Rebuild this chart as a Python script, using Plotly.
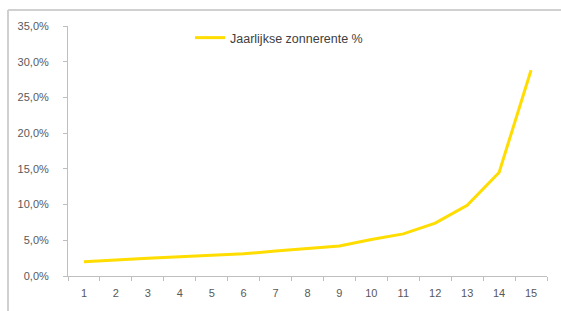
import plotly.graph_objects as go

years = [str(i) for i in range(1, 16)]
rente = [0.020, 0.023, 0.025, 0.027, 0.029, 0.031, 0.035, 0.038, 0.042, 0.051, 0.059, 0.074, 0.099, 0.145, 0.288]

fig = go.Figure()
fig.add_trace(go.Scatter(
    x=years, y=rente, mode="lines", name="Jaarlijkse zonnerente %",
    line=dict(color="#FFDD00", width=3),
))

W, H = 561, 311
L, R, T, B = 68, 14, 26, 35
pw, ph = W - L - R, H - T - B

fig.update_layout(
    width=W, height=H,
    margin=dict(l=L, r=R, t=T, b=B),
    paper_bgcolor="white", plot_bgcolor="white",
    separators=",.",
    font=dict(family="Liberation Sans", size=11, color="#595959"),
    showlegend=True,
    legend=dict(
        x=(190 - L) / pw, y=(276 - 23) / ph, xanchor="left", yanchor="top",
        orientation="h", bgcolor="rgba(0,0,0,0)", font=dict(size=12.5, color="#404040"),
    ),
    xaxis=dict(
        type="category", tickson="boundaries", ticks="outside", ticklen=4,
        range=[-0.5, 14.5], ticklabelstandoff=7,
        tickcolor="#bfbfbf", showline=True, linecolor="#bfbfbf", linewidth=1,
        showgrid=False, zeroline=False, fixedrange=True,
    ),
    yaxis=dict(
        range=[0, 0.35], dtick=0.05, tickformat=".1%", ticks="outside", ticklen=4,
        ticklabelstandoff=12,
        tickcolor="#bfbfbf", showline=True, linecolor="#bfbfbf", linewidth=1,
        showgrid=False, zeroline=False, fixedrange=True,
    ),
    shapes=[
        dict(type="line", xref="paper", yref="paper",
             x0=(8 - L) / pw, x1=(W - L) / pw,
             y0=(276 - 10) / ph, y1=(276 - 10) / ph,
             line=dict(color="#d0d0d0", width=2), layer="below"),
        dict(type="line", xref="paper", yref="paper",
             x0=(8 - L) / pw, x1=(8 - L) / pw,
             y0=(276 - 10) / ph, y1=(276 - H) / ph,
             line=dict(color="#d0d0d0", width=2), layer="below"),
    ],
)

fig.write_html("out.html", config={"displayModeBar": False},
               post_script="document.body.style.margin='0';document.body.style.overflow='hidden';")
